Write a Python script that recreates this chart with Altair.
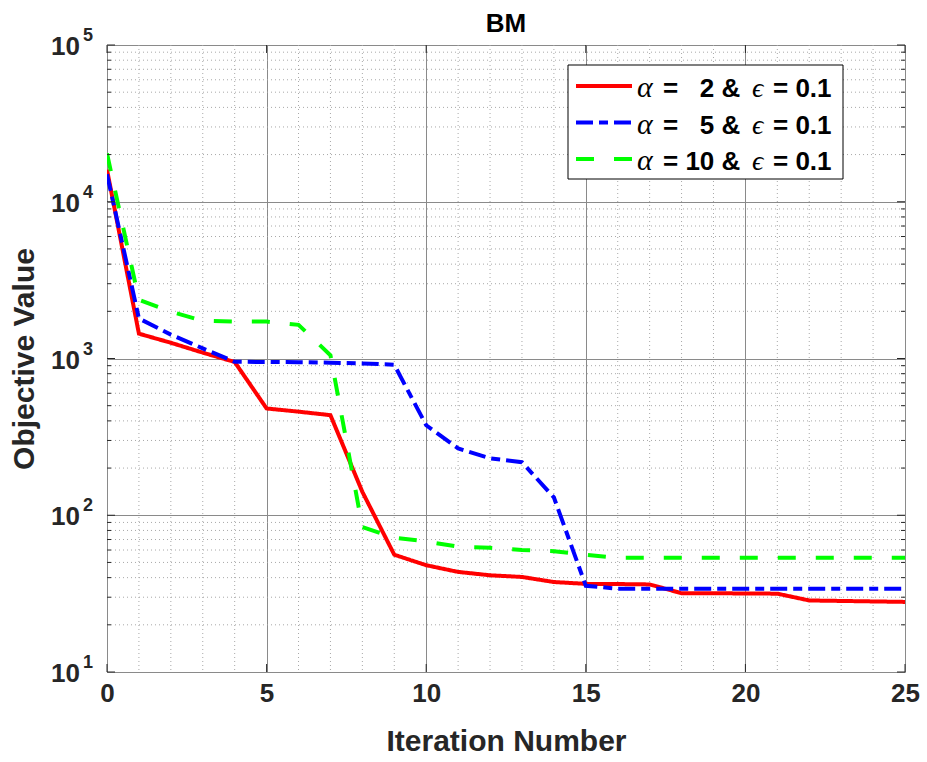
import altair as alt
import pandas as pd

# Objective value per iteration for each (alpha, epsilon) setting
iterations = list(range(26))
obj_alpha2 = [16000, 1440, 1260, 1090, 950, 480, 458, 435, 141, 56, 48, 43.5, 41.4, 40.4,
              37.5, 36.5, 36.4, 36.2, 31.8, 31.8, 31.7, 31.6, 28.6, 28.4, 28.2, 28.0]
obj_alpha5 = [15000, 1800, 1420, 1160, 953, 950, 948, 940, 930, 912, 375, 267, 231, 218,
              130, 35.5, 34, 34, 34, 34, 34, 34, 34, 34, 34, 34]
obj_alpha10 = [20300, 2370, 1990, 1740, 1720, 1720, 1640, 1050, 84, 72, 68, 63, 62, 60,
               59, 56, 53.5, 53.5, 53.5, 53.5, 53.5, 53.5, 53.5, 53.5, 53.5, 53.5]
alpha_text = ["\u00a0\u00a02", "\u00a0\u00a05", "10"]
series_names = [f"\u03b1 = {a} & \u03f5 = 0.1" for a in alpha_text]
series_colors = ["#ff0000", "#0000ff", "#00ff00"]
series_dashes = [[1, 0], [17, 6, 9, 6], [18, 20]]

x_major = [0, 5, 10, 15, 20, 25]
x_minor = [i for i in range(1, 25) if i % 5]
y_decades = [10, 100, 1000, 10000, 100000]
y_exponents = ["1", "2", "3", "4", "5"]
y_minor = [k * 10 ** e for e in range(1, 5) for k in range(2, 10)]

W, H = 798, 627
FONT = "Liberation Sans"
MATH = "Liberation Serif"
INK = "#262626"

rows = []
for name, vals in zip(series_names, [obj_alpha2, obj_alpha5, obj_alpha10]):
    for it, v in zip(iterations, vals):
        rows.append({"iter": it, "value": v, "series": name})
df = pd.DataFrame(rows)

xs = alt.Scale(domain=[0, 25], nice=False, zero=False)
ys = alt.Scale(type="log", domain=[10, 100000], nice=False)

x_axis = alt.Axis(values=x_major, grid=True, gridColor="#8a8a8a", gridWidth=1,
                  ticks=False, domain=False, labelFont=FONT, labelFontSize=26,
                  labelFontWeight="bold", labelColor=INK, labelPadding=8,
                  labelFlush=False, title="Iteration Number", titleFont=FONT,
                  titleFontSize=30, titleFontWeight="bold", titleColor=INK,
                  titlePadding=20)
y_axis = alt.Axis(values=y_decades, grid=True, gridColor="#8a8a8a", gridWidth=1,
                  ticks=False, domain=False, labels=False, title="Objective Value",
                  titleFont=FONT, titleFontSize=30, titleFontWeight="bold",
                  titleColor=INK, titlePadding=68)


def X(field):
    return alt.X(field, type="quantitative", scale=xs, axis=x_axis)


def Y(field):
    return alt.Y(field, type="quantitative", scale=ys, axis=y_axis)


one = pd.DataFrame({"k": [0]})

# dotted minor grid
minor_gx = alt.Chart(pd.DataFrame({"iter": x_minor})).mark_rule(
    color="#a8a8a8", strokeDash=[1, 3], strokeWidth=1
).encode(x=X("iter"), y=alt.value(0), y2=alt.value(H))

minor_gy = alt.Chart(pd.DataFrame({"value": y_minor})).mark_rule(
    color="#a8a8a8", strokeDash=[1, 3], strokeWidth=1
).encode(y=Y("value"), x=alt.value(0), x2=alt.value(W))

# inward ticks along the box
tick_xb = alt.Chart(pd.DataFrame({"iter": x_major})).mark_rule(color=INK).encode(
    x=X("iter"), y=alt.value(H), y2=alt.value(H - 8))
tick_xt = alt.Chart(pd.DataFrame({"iter": x_major})).mark_rule(color=INK).encode(
    x=X("iter"), y=alt.value(0), y2=alt.value(8))
tick_yl = alt.Chart(pd.DataFrame({"value": y_decades})).mark_rule(color=INK).encode(
    y=Y("value"), x=alt.value(0), x2=alt.value(8))
tick_yr = alt.Chart(pd.DataFrame({"value": y_decades})).mark_rule(color=INK).encode(
    y=Y("value"), x=alt.value(W), x2=alt.value(W - 8))
mtick_yl = alt.Chart(pd.DataFrame({"value": y_minor})).mark_rule(color=INK).encode(
    y=Y("value"), x=alt.value(0), x2=alt.value(4))
mtick_yr = alt.Chart(pd.DataFrame({"value": y_minor})).mark_rule(color=INK).encode(
    y=Y("value"), x=alt.value(W), x2=alt.value(W - 4))

# y tick labels as 10 with a raised exponent
ylab_df = pd.DataFrame({"value": y_decades, "exp": y_exponents})
ylab_base = alt.Chart(ylab_df).mark_text(
    text="10", align="right", baseline="middle", font=FONT, fontSize=26,
    fontWeight="bold", color=INK, dy=2
).encode(y=Y("value"), x=alt.value(-27))
ylab_exp = alt.Chart(ylab_df).mark_text(
    align="left", baseline="middle", font=FONT, fontSize=18,
    fontWeight="bold", color=INK, dy=-9
).encode(y=Y("value"), x=alt.value(-24), text="exp:N")

# chart title
title_mark = alt.Chart(one).mark_text(
    text="BM", align="center", baseline="alphabetic", font=FONT, fontSize=26,
    fontWeight="bold", color="black"
).encode(x=alt.value(W / 2), y=alt.value(-13))

lines = alt.Chart(df).mark_line(strokeWidth=4, clip=True).encode(
    x=X("iter"),
    y=Y("value"),
    color=alt.Color("series:N", sort=series_names, legend=None,
                    scale=alt.Scale(domain=series_names, range=series_colors)),
    strokeDash=alt.StrokeDash("series:N", sort=series_names, legend=None,
                              scale=alt.Scale(domain=series_names, range=series_dashes)),
    detail="series:N",
)

# legend box in the upper right of the plot
LX, LY, LW, LH = 461, 20, 275, 114
ROW0, ROWSTEP = 41, 36.5
legend_layers = [
    alt.Chart(one).mark_rect(fill="white", stroke="black", strokeWidth=1).encode(
        x=alt.value(LX), x2=alt.value(LX + LW), y=alt.value(LY), y2=alt.value(LY + LH))
]
for i, (a, col, dash) in enumerate(zip(alpha_text, series_colors, series_dashes)):
    ry = ROW0 + i * ROWSTEP
    legend_layers.append(
        alt.Chart(one).mark_rule(color=col, strokeWidth=4, strokeDash=dash).encode(
            x=alt.value(LX + 8), x2=alt.value(LX + 64), y=alt.value(ry)))
    txt = dict(align="left", baseline="alphabetic", color="black")
    legend_layers += [
        alt.Chart(one).mark_text(text="\u03b1", font=MATH, fontSize=30, fontStyle="italic",
                                 **txt).encode(x=alt.value(LX + 69), y=alt.value(ry + 11)),
        alt.Chart(one).mark_text(text=f"= {a} &", font=FONT, fontSize=26, fontWeight="bold",
                                 **txt).encode(x=alt.value(LX + 95), y=alt.value(ry + 11)),
        alt.Chart(one).mark_text(text="\u03f5", font=MATH, fontSize=28, fontStyle="italic",
                                 **txt).encode(x=alt.value(LX + 184), y=alt.value(ry + 11)),
        alt.Chart(one).mark_text(text="= 0.1", font=FONT, fontSize=26, fontWeight="bold",
                                 **txt).encode(x=alt.value(LX + 205), y=alt.value(ry + 11)),
    ]

chart = alt.layer(
    minor_gx, minor_gy, lines, tick_xb, tick_xt, tick_yl, tick_yr, mtick_yl, mtick_yr,
    ylab_base, ylab_exp, title_mark, *legend_layers,
).properties(
    width=W, height=H,
    autosize=alt.AutoSizeParams(type="none"),
    padding={"left": 107, "top": 45, "right": 22, "bottom": 90},
).configure_view(
    stroke="#3a3a3a", strokeWidth=1.5
).configure(background="white")

chart.save("out.html", embed_options={"renderer": "svg", "actions": False})
